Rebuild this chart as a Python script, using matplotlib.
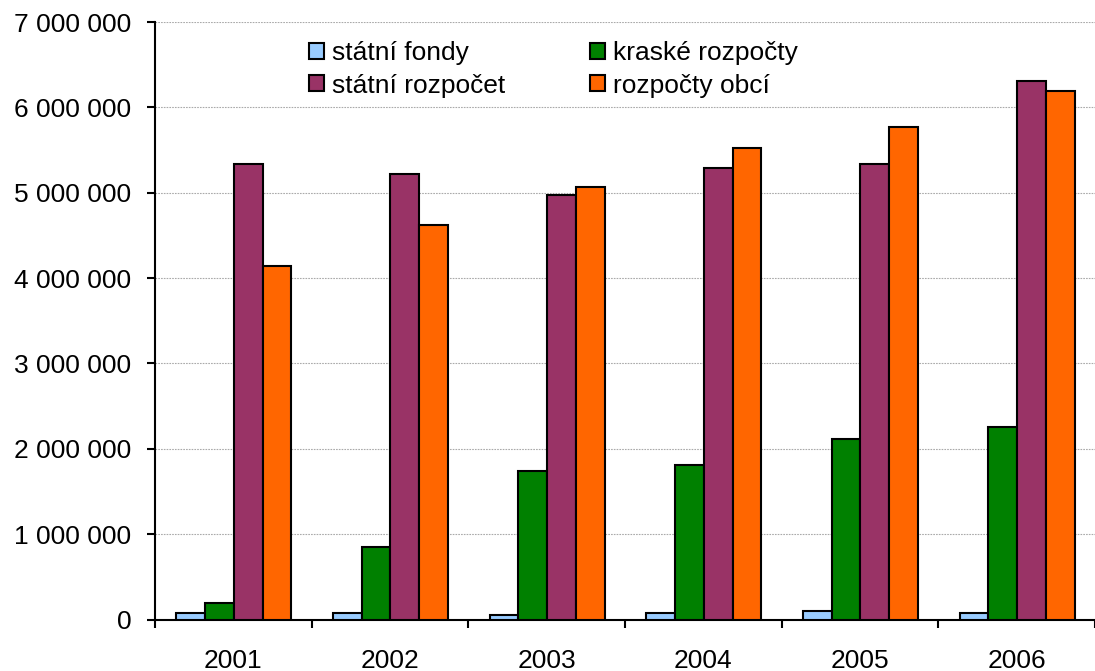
import numpy as np
import matplotlib
matplotlib.use("Agg")
import matplotlib.pyplot as plt
from matplotlib.ticker import FuncFormatter, FixedLocator

plt.rcParams['font.family'] = ['Liberation Sans', 'DejaVu Sans']

years = ["2001", "2002", "2003", "2004", "2005", "2006"]
statni_fondy = [80000, 80000, 53000, 80000, 103000, 80000]
kraske_rozpocty = [197000, 846000, 1740000, 1815000, 2110000, 2260000]
statni_rozpocet = [5340000, 5220000, 4970000, 5290000, 5340000, 6310000]
rozpocty_obci = [4140000, 4620000, 5070000, 5520000, 5770000, 6190000]

series = [
    ("státní fondy", statni_fondy, "#99ccff"),
    ("kraské rozpočty", kraske_rozpocty, "#008000"),
    ("státní rozpočet", statni_rozpocet, "#993366"),
    ("rozpočty obcí", rozpocty_obci, "#ff6600"),
]

W, H = 1095, 671
left, bottom, top = 155, 619.5, 22
step = 158.6  # pixels per category

fig = plt.figure(figsize=(W / 100, H / 100), dpi=100)
ax = fig.add_axes([left / W, 1 - bottom / H, 1 - left / W, (bottom - top) / H])

x = np.arange(len(years))
w = 0.1835
bars = {}
for i, (name, vals, col) in enumerate(series):
    bars[name] = ax.bar(x + 0.003 + (i - 1.5) * w, vals, w, color=col, edgecolor="black",
                        linewidth=1.5, label=name, zorder=3)

ax.set_ylim(0, 7000000)
ax.set_xlim(-0.5, (W - left) / step - 0.5)
ax.yaxis.set_major_locator(FixedLocator(np.arange(0, 7000001, 1000000)))
ax.yaxis.set_major_formatter(FuncFormatter(lambda v, p: "{:,}".format(int(v)).replace(",", " ")))
ax.grid(axis="y", color="#aaaaaa", linestyle=(0, (1.5, 1)), linewidth=0.8, zorder=0)

ax.set_xticks(x)
ax.set_xticklabels(years)
ax.set_xticks(np.arange(-0.5, len(years), 1), minor=True)
ax.tick_params(axis="x", which="major", length=0, pad=21, labelsize=19)
ax.tick_params(axis="x", which="minor", length=6, width=1.5, direction="out")
ax.tick_params(axis="y", length=6, width=1.5, direction="out", pad=11, labelsize=19)

for s in ["top", "right"]:
    ax.spines[s].set_visible(False)
for s in ["left", "bottom"]:
    ax.spines[s].set_linewidth(1.5)

order = ["státní fondy", "státní rozpočet", "kraské rozpočty", "rozpočty obcí"]
ax.legend([bars[n] for n in order], order, ncol=2, frameon=False, fontsize=19,
          loc="upper left", bbox_to_anchor=(296 / W, 1 - 28 / H), bbox_transform=fig.transFigure,
          handlelength=0.55, handleheight=0.55, handletextpad=0.33, columnspacing=3.2,
          labelspacing=0.32, borderpad=0)

fig.savefig("out.png", dpi=100)
